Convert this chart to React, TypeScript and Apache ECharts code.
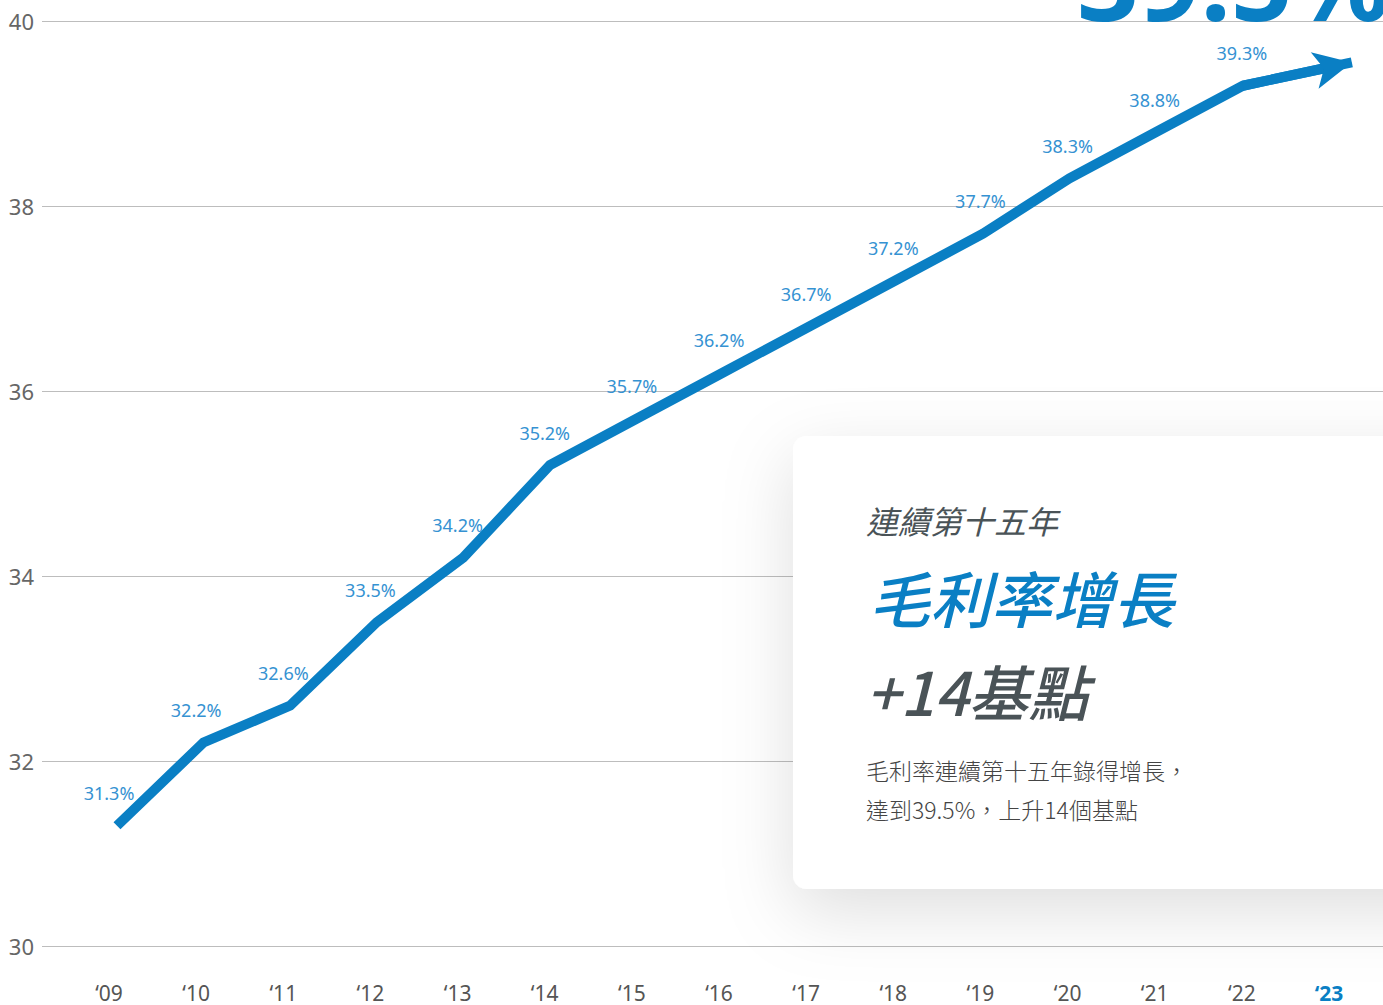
import React, { useEffect, useRef } from "react";
import * as echarts from "echarts";

const years = [2009, 2010, 2011, 2012, 2013, 2014, 2015, 2016, 2017, 2018, 2019, 2020, 2021, 2022, 2023];
const margins = [31.3, 32.2, 32.6, 33.5, 34.2, 35.2, 35.7, 36.2, 36.7, 37.2, 37.7, 38.3, 38.8, 39.3, 39.5];
const yTicks = { min: 30, max: 40, interval: 2 };
const headline = "39.5%";
const cardSub = "連續第十五年";
const cardTitle = "毛利率增長";
const cardValue = "+14基點";
const cardBody1 = "毛利率連續第十五年錄得增長，";
const cardBody2 = "達到39.5%，上升14個基點";

const BLUE = "#0a7fc4";
const LABEL_BLUE = "#3592d2";
const FONT = "'Noto Sans', 'Noto Sans CJK TC', sans-serif";
const CJK = "'Noto Sans CJK TC', 'Noto Sans', sans-serif";

export default function App() {
  const ref = useRef<HTMLDivElement>(null);
  useEffect(() => {
    if (!ref.current) return;
    const chart = echarts.init(ref.current, undefined, { renderer: "svg" });
    const last = years.length - 1;
    const lineData = years.map((y, i) => [y, margins[i]]);
    const labelData = years.slice(0, last).map((y, i) => [y, margins[i]]);
    // arrow continues the final segment a little past the last point
    const ext = 0.26;
    const arrowEnd = [
      years[last] + (years[last] - years[last - 1]) * ext,
      margins[last] + (margins[last] - margins[last - 1]) * ext,
    ];
    chart.setOption({
      animation: false,
      backgroundColor: "#ffffff",
      grid: { left: 42, right: 0, top: 21, bottom: 59, containLabel: false },
      xAxis: [
        {
          type: "value",
          min: 2008.134,
          max: 2023.62,
          axisLine: { show: false },
          axisTick: { show: false },
          splitLine: { show: false },
          axisLabel: { show: false },
        },
        {
          type: "value",
          position: "bottom",
          min: 2008.231,
          max: 2023.62,
          axisLine: { show: false },
          axisTick: { show: false },
          splitLine: { show: false },
          axisLabel: {
            customValues: years,
            margin: 36,
            fontSize: 21,
            color: "#555",
            fontFamily: FONT,
            formatter: (v: number) => {
              const s = "‘" + String(v).slice(2);
              return v === years[last] ? "{hl|" + s + "}" : s;
            },
            rich: {
              hl: { fontSize: 21, fontWeight: "bold", color: BLUE, fontFamily: FONT },
            },
          },
        },
      ],
      yAxis: {
        type: "value",
        min: yTicks.min,
        max: yTicks.max,
        interval: yTicks.interval,
        axisLine: { show: false },
        axisTick: { show: false },
        splitLine: { show: true, lineStyle: { color: "#bdbdbd", width: 1 } },
        axisLabel: { margin: 8, fontSize: 22, color: "#666", fontFamily: FONT },
      },
      series: [
        {
          type: "line",
          xAxisIndex: 0,
          z: 3,
          data: lineData,
          symbol: "none",
          lineStyle: { color: BLUE, width: 10, cap: "butt", join: "miter" },
          markLine: {
            silent: true,
            symbol: ["none", "arrow"],
            symbolSize: [28, 38],
            label: { show: false },
            lineStyle: { color: BLUE, width: 10, type: "solid" },
            itemStyle: { color: BLUE },
            emphasis: { disabled: true },
            data: [
              [
                { coord: [years[last - 1], margins[last - 1]] },
                { coord: arrowEnd },
              ],
            ],
          },
        },
        {
          type: "scatter",
          xAxisIndex: 1,
          z: 4,
          silent: true,
          data: labelData,
          symbolSize: 1,
          itemStyle: { color: "rgba(0,0,0,0)", opacity: 1 },
          label: {
            show: true,
            position: "top",
            distance: 23,
            fontSize: 18,
            color: LABEL_BLUE,
            opacity: 1,
            fontFamily: FONT,
            formatter: (p: any) => p.value[1].toFixed(1) + "%",
          },
          labelLayout: { hideOverlap: false },
        },
      ],
      graphic: [
        {
          type: "rect",
          z: 1,
          shape: { x: 793, y: 436, width: 700, height: 453, r: 14 },
          style: {
            fill: "#ffffff",
            shadowBlur: 70,
            shadowColor: "rgba(0,0,0,0.13)",
            shadowOffsetY: 22,
          },
        },
        {
          type: "text",
          z: 5,
          x: 1390,
          y: -21,
          style: {
            text: headline,
            fontSize: 108,
            fontWeight: "bold",
            fontFamily: FONT,
            fill: BLUE,
            align: "right",
            verticalAlign: "middle",
          },
        },
        {
          type: "text",
          z: 5,
          x: 866,
          y: 520,
          style: {
            text: cardSub,
            fontSize: 32,
            fontStyle: "italic",
            fontFamily: CJK,
            fill: "#4a5357",
            verticalAlign: "middle",
          },
        },
        {
          type: "text",
          z: 5,
          x: 869,
          y: 596,
          style: {
            text: cardTitle,
            fontSize: 61,
            fontStyle: "italic",
            fontWeight: 500,
            fontFamily: CJK,
            fill: BLUE,
            verticalAlign: "middle",
          },
        },
        {
          type: "text",
          z: 5,
          x: 866,
          y: 689,
          style: {
            text: cardValue,
            fontSize: 60,
            fontStyle: "italic",
            fontWeight: 500,
            fontFamily: CJK,
            fill: "#4a5357",
            verticalAlign: "middle",
          },
        },
        {
          type: "text",
          z: 5,
          x: 866,
          y: 770,
          style: {
            text: cardBody1,
            fontSize: 23,
            fontWeight: 300,
            fontFamily: CJK,
            fill: "#444",
            verticalAlign: "middle",
          },
        },
        {
          type: "text",
          z: 5,
          x: 866,
          y: 809,
          style: {
            text: cardBody2,
            fontSize: 23,
            fontWeight: 300,
            fontFamily: CJK,
            fill: "#444",
            verticalAlign: "middle",
          },
        },
      ],
    });
    return () => chart.dispose();
  }, []);
  return (
    <div
      ref={ref}
      style={{ position: "fixed", left: 0, top: 0, width: 1383, height: 1005, background: "#fff" }}
    />
  );
}
